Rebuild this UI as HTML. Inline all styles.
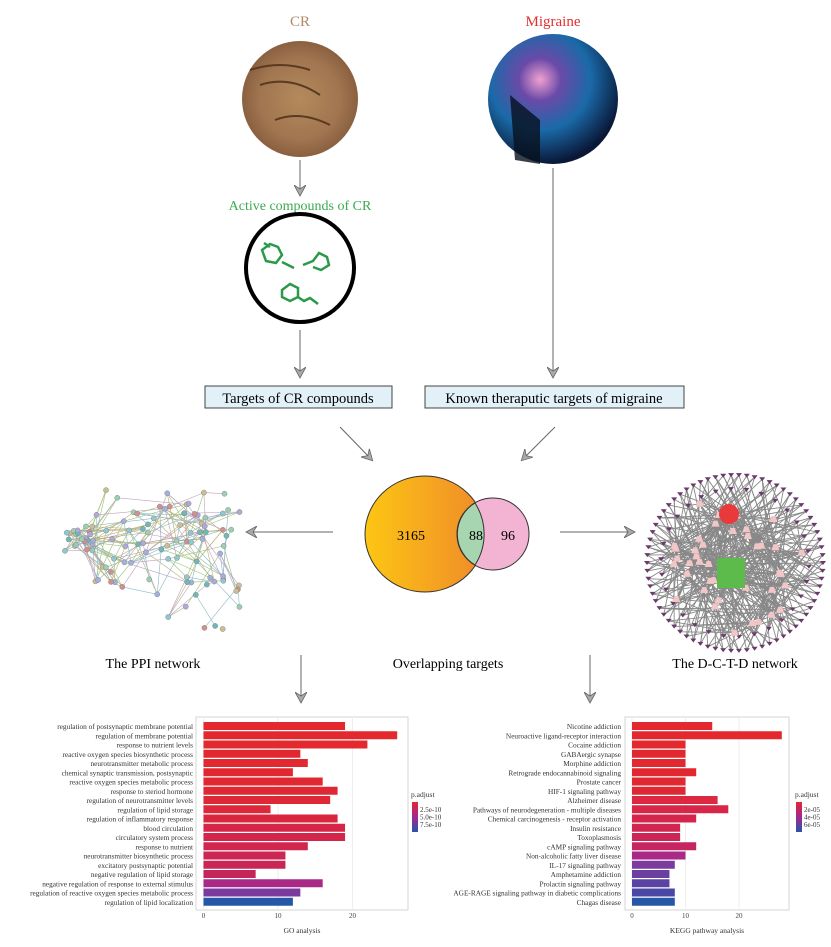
<!DOCTYPE html>
<html><head><meta charset="utf-8"><style>
body{margin:0;background:#fff;}
svg text{font-family:"Liberation Serif",serif;}
</style></head><body>
<svg id="s" width="831" height="942" viewBox="0 0 831 942" xmlns="http://www.w3.org/2000/svg">
<defs>
<radialGradient id="cr" cx="50%" cy="50%" r="50%"><stop offset="0" stop-color="#b48a5c"/><stop offset="0.7" stop-color="#a07550"/><stop offset="1" stop-color="#8a6040"/></radialGradient>
<radialGradient id="br" cx="40%" cy="35%" r="65%"><stop offset="0" stop-color="#f0a0d0"/><stop offset="0.25" stop-color="#6a4aa8"/><stop offset="0.6" stop-color="#1a6aa8"/><stop offset="1" stop-color="#0a1838"/></radialGradient>
<linearGradient id="ven" x1="0" x2="1"><stop offset="0" stop-color="#fdc613"/><stop offset="1" stop-color="#ef8a2a"/></linearGradient>
<linearGradient id="leg" x1="0" y1="0" x2="0" y2="1"><stop offset="0" stop-color="#e8242f"/><stop offset="0.5" stop-color="#a32890"/><stop offset="1" stop-color="#2656a6"/></linearGradient>
<marker id="ah" markerWidth="12" markerHeight="12" refX="10" refY="6" orient="auto" markerUnits="userSpaceOnUse"><path d="M0,0 L11,6 L0,12 L4,6 Z" fill="#aaa" stroke="#666" stroke-width="0.8"/></marker>
</defs>
<text x="300" y="26" font-size="15" fill="#b08a64" text-anchor="middle">CR</text>
<circle cx="300" cy="99" r="58" fill="url(#cr)"/>
<path d="M260,85 Q290,75 320,95 M275,120 Q300,110 330,125 M250,70 Q280,60 310,70" stroke="#5a3a20" stroke-width="2" fill="none"/>
<text x="553" y="26" font-size="15" fill="#e03030" text-anchor="middle">Migraine</text>
<circle cx="553" cy="99" r="65" fill="url(#br)"/>
<path d="M510,95 L515,160 L540,164 L540,120 Z" fill="#08101e" opacity="0.8"/>
<line x1="300" y1="160" x2="300" y2="195" stroke="#666" marker-end="url(#ah)"/>
<text x="300" y="210" font-size="14" fill="#3aaa50" text-anchor="middle">Active compounds of CR</text>
<circle cx="300" cy="268" r="54" fill="#fff" stroke="#000" stroke-width="4"/>
<path d="M262,250 l8,-6 l8,3 l4,8 l-6,8 l-10,-2 z M270,247 l-6,-4 M282,262 l12,6 M303,265 l10,-4 l6,-8 l8,4 l2,8 l-8,5 l-8,-3 M282,290 l8,-6 l8,4 l0,9 l-8,4 l-8,-4 z M298,297 l6,4 l6,-3 l8,6" stroke="#2a9a4a" stroke-width="2.5" fill="none"/>
<line x1="300" y1="330" x2="300" y2="377" stroke="#666" marker-end="url(#ah)"/>
<line x1="553" y1="168" x2="553" y2="377" stroke="#666" marker-end="url(#ah)"/>
<rect x="205" y="386" width="187" height="22" fill="#e2f1f8" stroke="#444"/>
<text x="298" y="403" font-size="14.5" text-anchor="middle">Targets of CR compounds</text>
<rect x="425" y="386" width="259" height="22" fill="#e2f1f8" stroke="#444"/>
<text x="554" y="403" font-size="14.5" text-anchor="middle">Known theraputic targets of migraine</text>
<line x1="340" y1="427" x2="372" y2="460" stroke="#666" marker-end="url(#ah)"/>
<line x1="555" y1="427" x2="522" y2="460" stroke="#666" marker-end="url(#ah)"/>
<ellipse cx="425" cy="534" rx="60" ry="58" fill="url(#ven)" stroke="#333"/>
<circle cx="493" cy="534" r="36" fill="#f3b3d3" stroke="#333"/>
<path d="M475,503 A59,58 0 0 1 475,565 A36,36 0 0 1 475,503 Z" fill="#a6d5b0" stroke="#333"/>
<text x="411" y="540" font-size="14" text-anchor="middle">3165</text>
<text x="476" y="540" font-size="14" text-anchor="middle">88</text>
<text x="508" y="540" font-size="14" text-anchor="middle">96</text>
<line x1="333" y1="532" x2="247" y2="532" stroke="#666" marker-end="url(#ah)"/>
<line x1="560" y1="532" x2="634" y2="532" stroke="#666" marker-end="url(#ah)"/>
<g id="ppi"></g>
<g id="dctd"></g>
<text x="153" y="668" font-size="14" text-anchor="middle">The PPI network</text>
<text x="448" y="668" font-size="14" text-anchor="middle">Overlapping targets</text>
<text x="735" y="668" font-size="14" text-anchor="middle">The D-C-T-D network</text>
<line x1="301" y1="655" x2="301" y2="702" stroke="#666" marker-end="url(#ah)"/>
<line x1="590" y1="655" x2="590" y2="702" stroke="#666" marker-end="url(#ah)"/>
<g id="go"></g>
<g id="kegg"></g>
</svg>
<script>
var NS="http://www.w3.org/2000/svg";
function el(p,t,a,txt){var e=document.createElementNS(NS,t);for(var k in a)e.setAttribute(k,a[k]);if(txt!=null)e.textContent=txt;p.appendChild(e);return e;}
var seed=7;function r(){seed=(seed*16807)%2147483647;return seed/2147483647;}
var g=document.getElementById('ppi'),pts=[];
for(var i=0;i<110;i++){var x,y;if(i<25){x=65+r()*30;y=525+r()*28;}else{x=95+r()*145;y=490+r()*100;}if(i>100){x=150+r()*90;y=590+r()*40;}pts.push([x,y]);}
for(var i=0;i<420;i++){var a=pts[Math.floor(r()*pts.length)],b=pts[Math.floor(r()*pts.length)];if(Math.hypot(a[0]-b[0],a[1]-b[1])<70)el(g,'line',{x1:a[0],y1:a[1],x2:b[0],y2:b[1],stroke:['#9bc07a','#b8b070','#8ab8c8','#c0a0c0'][i%4],'stroke-width':0.6});}
var cols=['#8fc8d0','#9ad0b0','#b0a8d8','#c8c090','#70b8b8','#a0b0e0','#d09090'];
pts.forEach(function(p,i){el(g,'circle',{cx:p[0],cy:p[1],r:2.6,fill:cols[i%7],stroke:'#777','stroke-width':0.4});});
var d=document.getElementById('dctd'),cx=735,cy=563,R=88,outer=[],inner=[];
for(var i=0;i<70;i++){var t=i/70*2*Math.PI;outer.push([cx+R*Math.cos(t),cy+R*Math.sin(t)]);}
for(var i=0;i<30;i++){var t=i/30*2*Math.PI;outer.push([cx+(R-14)*Math.cos(t+0.05),cy+(R-14)*Math.sin(t+0.05)]);}
for(var i=0;i<40;i++){var rr=25+r()*45,t=r()*2*Math.PI;inner.push([cx+rr*Math.cos(t),cy+rr*Math.sin(t)]);}
outer.forEach(function(p,i){for(var k=0;k<3;k++){var q=inner[(i*7+k*13)%40];el(d,'line',{x1:p[0],y1:p[1],x2:q[0],y2:q[1],stroke:'#888','stroke-width':0.9});}});
inner.forEach(function(q){el(d,'line',{x1:q[0],y1:q[1],x2:729,y2:514,stroke:'#888','stroke-width':0.9});el(d,'line',{x1:q[0],y1:q[1],x2:731,y2:573,stroke:'#888','stroke-width':0.9});});
outer.forEach(function(p){el(d,'path',{d:'M'+(p[0]-3)+','+(p[1]-2)+' l6,0 l-3,4 z',fill:'#6a3a6a'});});
inner.forEach(function(q){el(d,'path',{d:'M'+(q[0]-4)+','+(q[1]+3)+' l8,0 l-2,-6 l-4,0 z',fill:'#f2c6c6'});});
el(d,'circle',{cx:729,cy:514,r:10,fill:'#e83a3a'});
el(d,'rect',{x:717,y:558,width:28,height:30,fill:'#5cbb4a'});
function chart(id,lx,x0,ppu,px1,px2,labels,vals,cs,ticks,title,legx,leglabels){
 var g=document.getElementById(id);
 el(g,'rect',{x:px1,y:717,width:px2-px1,height:193,fill:'#fff',stroke:'#ccc','stroke-width':0.8});
 [0,10,20].forEach(function(v){el(g,'line',{x1:x0+v*ppu,y1:717,x2:x0+v*ppu,y2:910,stroke:'#eee'});});
 labels.forEach(function(l,i){var y=722+i*9.25;
  el(g,'rect',{x:x0,y:y,width:vals[i]*ppu,height:8,fill:cs[i]});
  el(g,'text',{x:lx,y:y+7,'font-size':7.3,'text-anchor':'end',fill:'#333'},l);});
 [0,10,20].forEach(function(v){el(g,'text',{x:x0+v*ppu,y:918,'font-size':7,'text-anchor':'middle',fill:'#444'},String(v));});
 el(g,'text',{x:(px1+px2)/2,y:933,'font-size':7.5,'text-anchor':'middle',fill:'#333'},title);
 el(g,'text',{x:legx,y:797,'font-size':7.5,fill:'#333'},'p.adjust');
 el(g,'rect',{x:legx+1,y:802,width:6,height:30,fill:'url(#leg)'});
 leglabels.forEach(function(t,i){el(g,'text',{x:legx+9,y:812+i*7.5,'font-size':7,fill:'#333'},t);});
}
var goL=['regulation of postsynaptic membrane potential','regulation of membrane potential','response to nutrient levels','reactive oxygen species biosynthetic process','neurotransmitter metabolic process','chemical synaptic transmission, postsynaptic','reactive oxygen species metabolic process','response to steriod hormone','regulation of neurotransmitter levels','regulation of lipid storage','regulation of inflammatory response','blood circulation','circulatory system process','response to nutrient','neurotransmitter biosynthetic process','excitatory postsynaptic potential','negative regulation of lipid storage','negative regulation of response to external stimulus','regulation of reactive oxygen species metabolic process','regulation of lipid localization'];
var goV=[19,26,22,13,14,12,16,18,17,9,18,19,19,14,11,11,7,16,13,12];
var goC=['#e3282e','#e3282e','#e3282e','#e2282f','#e22830','#e12831','#e02832','#df2834','#de2836','#dc2838','#d9263f','#d52648','#d4264a','#d1264e','#cc2654','#c92656','#c4265c','#a82a86','#7a3a9e','#2656a6'];
chart('go',193,203.5,7.45,196,408,goL,goV,goC,0,'GO analysis',411,['2.5e-10','5.0e-10','7.5e-10']);
var kL=['Nicotine addiction','Neuroactive ligand-receptor interaction','Cocaine addiction','GABAergic synapse','Morphine addiction','Retrograde endocannabinoid signaling','Prostate cancer','HIF-1 signaling pathway','Alzheimer disease','Pathways of neurodegeneration - multiple diseases','Chemical carcinogenesis - receptor activation','Insulin resistance','Toxoplasmosis','cAMP signaling pathway','Non-alcoholic fatty liver disease','IL-17 signaling pathway','Amphetamine addiction','Prolactin signaling pathway','AGE-RAGE signaling pathway in diabetic complications','Chagas disease'];
var kV=[15,28,10,10,10,12,10,10,16,18,12,9,9,12,10,8,7,7,8,8];
var kC=['#e3282e','#e3282e','#e3282e','#e2282f','#e22830','#e12831','#e02832','#df2834','#dc2840','#d82648','#d4264c','#cf2652','#cc2656','#c52662','#a82a86','#7d3a9e','#6a3fa0','#5a43a2','#4a48a4','#2656a6'];
chart('kegg',621,632,5.35,625,789,kL,kV,kC,0,'KEGG pathway analysis',795,['2e-05','4e-05','6e-05']);
</script>
</body></html>
